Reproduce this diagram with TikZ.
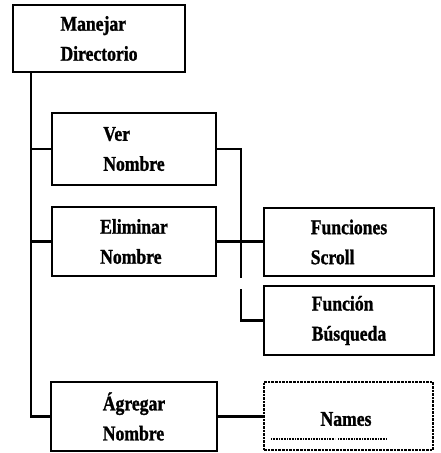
\documentclass[tikz,border=0pt]{standalone}
\usepackage{fontspec}
\setmainfont{Liberation Serif}
\newfontfamily\boxfont{Liberation Serif Bold}[FakeStretch=0.84, FakeBold=1.2]
\usetikzlibrary{calc}
\begin{document}
\begin{tikzpicture}[x=1pt,y=-1pt,
  txt/.style={font=\boxfont\fontsize{21}{30}\selectfont},
  box/.style={draw, line width=2.6pt, inner sep=0pt, align=left, txt},
  dotbox/.style={box, densely dotted, line width=2pt},
  conn/.style={line width=2.6pt},
  uline/.style={line width=1.6pt, dash pattern=on 1pt off 0.6pt}]
\useasboundingbox (0,0) rectangle (441,453);
\node[box, minimum width=172pt, minimum height=67pt] (md) at (99,38.5) {Manejar\\Directorio};
\node[box, minimum width=164pt, minimum height=72pt] (ver) at (134,149) {Ver\\Nombre};
\node[box, minimum width=164pt, minimum height=69pt] (el) at (134,241.5) {Eliminar\\Nombre};
\node[box, minimum width=170pt, minimum height=68pt] (fs) at (349,242) {Funciones\\Scroll};
\node[box, minimum width=170pt, minimum height=69pt] (fb) at (349,320.5) {Función\\Búsqueda};
\node[box, minimum width=166pt, minimum height=69pt] (ag) at (134,416.5) {Ágregar\\Nombre};
\node[dotbox, minimum width=169pt, minimum height=68pt] (nm) at (348.5,416) {};
\node[txt, inner sep=0pt] (nmt) at (346,419) {Names};
% connectors
\coordinate (tk) at (31,72);
\draw[conn] (tk) |- (ag.west);
\draw[conn] (ver.west) -- (ver.west -| tk);
\draw[conn] (el.west) -- (el.west -| tk);
\coordinate (gt) at (241,278);
\coordinate (gb) at (241,289);
\draw[conn] (ver.east) -| (gt);
\draw[conn] (gb) |- (fb.west);
\draw[conn] (el.east) -- (el.east -| fs.west);
\draw[conn] (ag.east) -- (ag.east -| nm.west);
% underline in Names box
\coordinate (u1) at ($(nm.south west)+(8,-12)$);
\coordinate (u2) at ($(nm.south west)+(72,-12)$);
\coordinate (u3) at ($(nm.south west)+(75,-12)$);
\coordinate (u4) at ($(nm.south west)+(124,-12)$);
\draw[uline] (u1) -- (u2);
\draw[uline] (u3) -- (u4);
\end{tikzpicture}
\end{document}
